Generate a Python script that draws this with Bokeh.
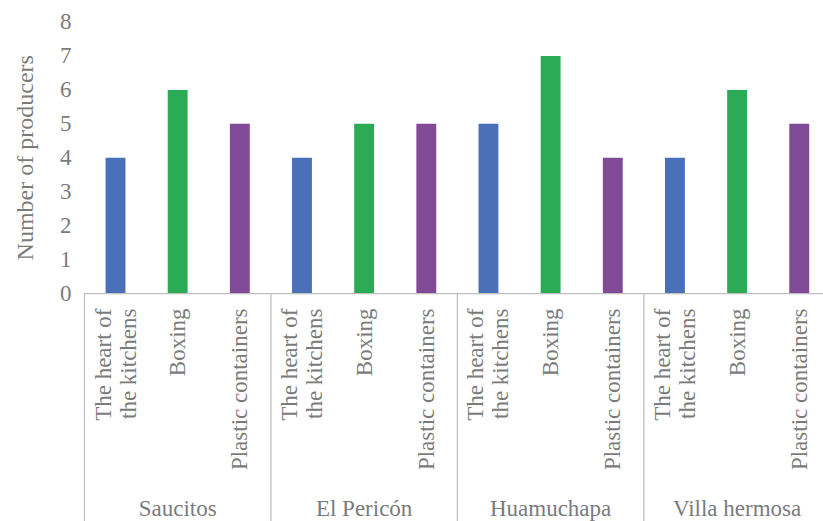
import math

from bokeh.core.properties import value
from bokeh.embed import file_html
from bokeh.layouts import row
from bokeh.models import ColumnDataSource, FixedTicker, Range1d
from bokeh.plotting import figure
from bokeh.resources import INLINE

# Producers per village and packaging type
villages = ["Saucitos", "El Pericón", "Huamuchapa", "Villa hermosa"]
products = ["The heart of\nthe kitchens", "Boxing", "Plastic containers"]
heart_of_kitchens = [4, 4, 5, 4]
boxing = [6, 5, 7, 6]
plastic_containers = [5, 5, 4, 5]
y_ticks = [0, 1, 2, 3, 4, 5, 6, 7, 8]
y_title = "Number of producers"

series = [heart_of_kitchens, boxing, plastic_containers]
colors = ["#4A70B7", "#2BAB55", "#814A96"]

FONT = "Liberation Serif"
TEXT_COLOR = "#7b7b7b"
AXIS_COLOR = "#bfbfbf"

n_prod = len(products)
n_cat = len(villages) * n_prod

bar_x, bar_top, bar_color = [], [], []
for g in range(len(villages)):
    for j in range(n_prod):
        bar_x.append(g * n_prod + j + 0.5)
        bar_top.append(series[j][g])
        bar_color.append(colors[j])
bars = ColumnDataSource(dict(x=bar_x, top=bar_top, color=bar_color))

cat_labels = ColumnDataSource(dict(
    x=bar_x,
    text=[products[j] for g in range(len(villages)) for j in range(n_prod)],
))
grp_labels = ColumnDataSource(dict(
    x=[g * n_prod + n_prod / 2 for g in range(len(villages))],
    text=villages,
))
sep_x = [g * n_prod for g in range(len(villages) + 1)]

# shared vertical scale: value axis on top, category labels below zero
y_range = Range1d(-6.716, 8.044)

# --- narrow panel holding the rotated y-axis title ---
t = figure(
    width=40, height=521,
    x_range=(0, 40), y_range=y_range,
    output_backend="svg", toolbar_location=None,
    min_border_left=0, min_border_right=0,
    min_border_top=20, min_border_bottom=0,
)
t.outline_line_color = None
t.grid.visible = False
t.axis.visible = False
t.text(x=[24], y=[(y_ticks[0] + y_ticks[-1]) / 2], text=[y_title], angle=math.pi / 2,
       text_align="center", text_baseline="middle",
       text_font=value(FONT), text_font_size="24px", text_color=TEXT_COLOR)

# --- main panel ---
p = figure(
    width=783, height=521,
    x_range=(-0.015, 11.89), y_range=y_range,
    output_backend="svg", toolbar_location=None,
    min_border_left=43, min_border_right=0,
    min_border_top=20, min_border_bottom=0,
)
p.outline_line_color = None
p.grid.visible = False
p.xaxis.visible = False

yax = p.yaxis[0]
yax.ticker = FixedTicker(ticks=y_ticks)
yax.axis_line_color = None
yax.major_tick_line_color = None
yax.minor_tick_line_color = None
yax.major_tick_out = 0
yax.major_tick_in = 0
yax.major_label_standoff = 12
yax.major_label_text_font = FONT
yax.major_label_text_font_size = "23px"
yax.major_label_text_color = TEXT_COLOR

p.vbar(x="x", top="top", bottom=0, width=0.32, color="color",
       line_color=None, source=bars)

# category axis line and group separators
p.segment(x0=[0], y0=[0], x1=[n_cat], y1=[0], line_color=AXIS_COLOR, line_width=1.3)
p.segment(x0=sep_x, y0=[0] * len(sep_x), x1=sep_x, y1=[-7] * len(sep_x),
          line_color=AXIS_COLOR, line_width=1.3)

p.text(x="x", y=-0.44, text="text", source=cat_labels, angle=math.pi / 2,
       text_align="right", text_baseline="middle",
       text_font=value(FONT), text_font_size="23px", text_color=TEXT_COLOR,
       text_line_height=1.0)

p.text(x="x", y=-6.33, text="text", source=grp_labels,
       text_align="center", text_baseline="middle",
       text_font=value(FONT), text_font_size="23px", text_color=TEXT_COLOR)

layout = row(t, p, spacing=0)
open("out.html", "w").write(file_html(layout, INLINE))
